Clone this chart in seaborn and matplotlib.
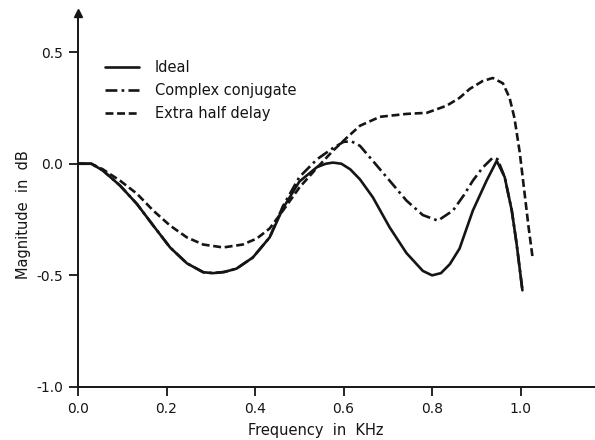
import numpy as np
import pandas as pd
import matplotlib
matplotlib.use("Agg")
import matplotlib.pyplot as plt
import seaborn as sns
from matplotlib.lines import Line2D

# ---- data ----
ideal_x = [0.0, 0.03, 0.056, 0.095, 0.133, 0.17, 0.208, 0.246, 0.283, 0.305, 0.33, 0.358,
           0.395, 0.433, 0.463, 0.50, 0.54, 0.56, 0.576, 0.595, 0.615, 0.637, 0.666, 0.704,
           0.742, 0.779, 0.80, 0.82, 0.84, 0.862, 0.892, 0.923, 0.946, 0.964, 0.98, 0.991, 1.004]
ideal_y = [0.0, 0.0, -0.03, -0.098, -0.18, -0.277, -0.375, -0.446, -0.486, -0.49, -0.485, -0.47,
           -0.42, -0.33, -0.2, -0.08, -0.015, 0.0, 0.005, 0.0, -0.025, -0.07, -0.15, -0.285,
           -0.40, -0.48, -0.50, -0.49, -0.45, -0.38, -0.21, -0.076, 0.013, -0.06, -0.21, -0.36, -0.567]

conj_x = [0.0, 0.03, 0.056, 0.095, 0.133, 0.17, 0.208, 0.246, 0.283, 0.305, 0.33, 0.358,
          0.395, 0.433, 0.463, 0.50, 0.54, 0.576, 0.600, 0.618, 0.637, 0.666, 0.704, 0.742,
          0.779, 0.813, 0.847, 0.872, 0.892, 0.914, 0.937, 0.948, 0.964, 0.98, 0.991, 1.004]
conj_y = [0.0, 0.0, -0.03, -0.098, -0.18, -0.277, -0.375, -0.446, -0.486, -0.49, -0.485, -0.47,
          -0.42, -0.33, -0.19, -0.06, 0.02, 0.07, 0.098, 0.10, 0.08, 0.013, -0.076, -0.165,
          -0.23, -0.255, -0.21, -0.14, -0.076, -0.018, 0.027, 0.02, -0.06, -0.21, -0.36, -0.567]

half_x = [0.0, 0.03, 0.056, 0.095, 0.133, 0.17, 0.208, 0.246, 0.283, 0.328, 0.372, 0.404,
          0.433, 0.463, 0.50, 0.54, 0.576, 0.607, 0.637, 0.682, 0.742, 0.788, 0.833, 0.862,
          0.885, 0.914, 0.937, 0.96, 0.975, 0.986, 0.998, 1.009, 1.018, 1.027]
half_y = [0.0, 0.0, -0.025, -0.076, -0.134, -0.21, -0.277, -0.33, -0.362, -0.375, -0.362, -0.335,
          -0.29, -0.21, -0.107, -0.018, 0.058, 0.116, 0.17, 0.21, 0.223, 0.228, 0.26, 0.295,
          0.335, 0.37, 0.384, 0.36, 0.295, 0.205, 0.05, -0.134, -0.285, -0.42]

series_names = ["Ideal", "Complex conjugate", "Extra half delay"]
x_ticks = [0.0, 0.2, 0.4, 0.6, 0.8, 1.0]
y_ticks = [-1.0, -0.5, 0.0, 0.5]

df = pd.concat([
    pd.DataFrame({"freq": ideal_x, "mag": ideal_y, "series": series_names[0]}),
    pd.DataFrame({"freq": conj_x, "mag": conj_y, "series": series_names[1]}),
    pd.DataFrame({"freq": half_x, "mag": half_y, "series": series_names[2]}),
], ignore_index=True)

sns.set_theme(style="white")
plt.rcParams["font.family"] = ["DejaVu Sans"]

fig = plt.figure(figsize=(5.95, 4.4), dpi=100)
ax = fig.add_axes([78 / 595, 1 - 387 / 440, 517 / 595, 374 / 440])

ink = "#151515"
dash_map = {
    series_names[0]: "",
    series_names[1]: (4.5, 1.6, 1.0, 1.6),
    series_names[2]: (3.0, 1.4),
}
sns.lineplot(data=df, x="freq", y="mag", style="series", dashes=dash_map,
             color=ink, sort=False, estimator=None, linewidth=1.9, ax=ax, legend=False)

ax.set_xlim(0.0, 1.168)
ax.set_ylim(-1.0, 0.675)
ax.set_xticks(x_ticks)
ax.set_xticklabels([f"{v:.1f}" for v in x_ticks])
ax.set_yticks(y_ticks)
ax.set_yticklabels([f"{v:.1f}" for v in y_ticks])

for s in ["top", "right"]:
    ax.spines[s].set_visible(False)
for s in ["left", "bottom"]:
    ax.spines[s].set_color(ink)
    ax.spines[s].set_linewidth(1.4)

ax.tick_params(axis="both", which="major", direction="out", length=6.5, width=1.3,
               color=ink, labelsize=10, labelcolor=ink, pad=4, bottom=True, left=True)

# arrow head on top of the y axis
ax.plot([0], [1.0], marker="^", markersize=6, color=ink, transform=ax.transAxes,
        clip_on=False)

ax.set_xlabel("Frequency  in  KHz", fontsize=10.5, color=ink)
ax.set_ylabel("Magnitude  in  dB", fontsize=10.5, color=ink)
ax.xaxis.label.set_va("center")
ax.xaxis.set_label_coords(0.46, -0.117)
ax.yaxis.set_label_coords(-0.09, 0.46)

handles = [
    Line2D([], [], color=ink, lw=1.9, linestyle="-"),
    Line2D([], [], color=ink, lw=1.9, dashes=dash_map[series_names[1]]),
    Line2D([], [], color=ink, lw=1.9, dashes=dash_map[series_names[2]]),
]
leg = ax.legend(handles, series_names, loc="upper left",
                bbox_to_anchor=(105 / 595, 1 - 60 / 440), bbox_transform=fig.transFigure,
                frameon=False, fontsize=10.5, handlelength=2.3, handletextpad=1.1,
                labelspacing=0.55, borderpad=0, borderaxespad=0)
for t in leg.get_texts():
    t.set_color(ink)

fig.savefig("out.png", dpi=100, facecolor="white")
